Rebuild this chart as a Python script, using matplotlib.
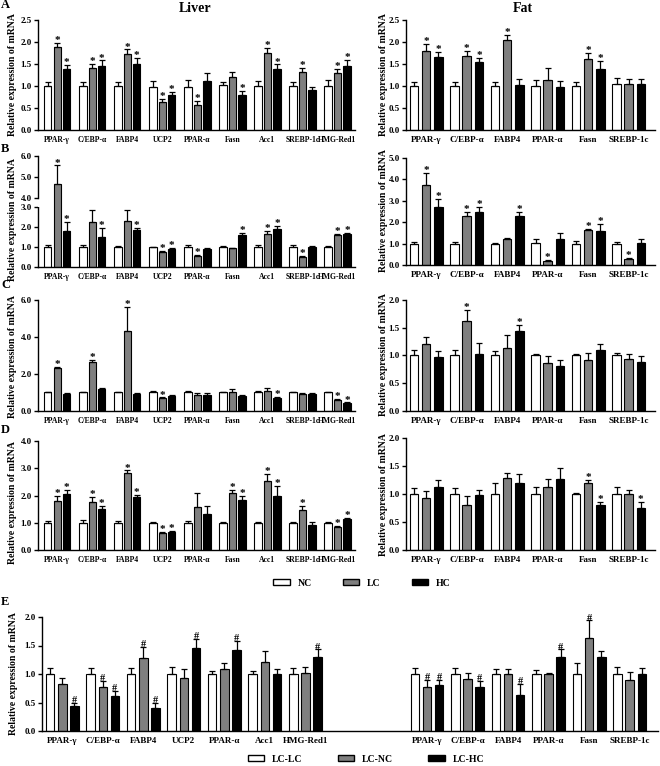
import matplotlib
matplotlib.use('Agg')
import matplotlib.pyplot as plt
from matplotlib.patches import Patch
import numpy as np

plt.rcParams['font.family'] = ['Liberation Serif', 'DejaVu Serif']
plt.rcParams['font.weight'] = 'bold'

# ---------------- data ----------------
liver_genes = ['PPAR-γ', 'C/EBP-α', 'FABP4', 'UCP2', 'PPAR-α', 'Fasn', 'Acc1', 'SREBP-1c', 'HMG-Red1']
fat_genes = ['PPAR-γ', 'C/EBP-α', 'FABP4', 'PPAR-α', 'Fasn', 'SREBP-1c']
e_genes = ['PPAR-γ', 'C/EBP-α', 'FABP4', 'UCP2', 'PPAR-α', 'Acc1', 'HMG-Red1', '', '',
           'PPAR-γ', 'C/EBP-α', 'FABP4', 'PPAR-α', 'Fasn', 'SREBP-1c']
legend1 = ['NC', 'LC', 'HC']
legend2 = ['LC-LC', 'LC-NC', 'LC-HC']

# Panel A
a_liver_means = [[1.00, 1.00, 1.00, 0.98, 0.98, 1.03, 1.01, 1.00, 1.01],
                 [1.88, 1.41, 1.73, 0.64, 0.57, 1.20, 1.76, 1.32, 1.30],
                 [1.38, 1.46, 1.51, 0.79, 1.12, 0.80, 1.39, 0.90, 1.45]]
a_liver_errs = [[0.10, 0.10, 0.08, 0.13, 0.15, 0.06, 0.10, 0.10, 0.12],
                [0.10, 0.10, 0.10, 0.06, 0.09, 0.12, 0.10, 0.08, 0.08],
                [0.10, 0.12, 0.13, 0.08, 0.18, 0.08, 0.10, 0.08, 0.15]]
a_liver_sig = [[0, 0, 0, 0, 0, 0, 0, 0, 0],
               [1, 1, 1, 1, 1, 0, 1, 1, 1],
               [1, 1, 1, 1, 0, 1, 1, 0, 1]]
a_fat_means = [[1.00, 1.00, 1.00, 1.00, 1.00, 1.04],
               [1.80, 1.69, 2.05, 1.14, 1.61, 1.04],
               [1.65, 1.55, 1.03, 0.98, 1.39, 1.05]]
a_fat_errs = [[0.10, 0.10, 0.08, 0.13, 0.08, 0.14],
              [0.16, 0.10, 0.10, 0.27, 0.15, 0.12],
              [0.13, 0.08, 0.13, 0.13, 0.17, 0.10]]
a_fat_sig = [[0, 0, 0, 0, 0, 0],
             [1, 1, 1, 0, 1, 0],
             [1, 1, 0, 0, 1, 0]]

# Panel B
b_liver_means = [[1.00, 1.00, 1.00, 0.98, 0.98, 1.00, 1.00, 1.00, 1.00],
                 [4.65, 2.25, 2.30, 0.77, 0.53, 0.93, 1.65, 0.50, 1.62],
                 [1.80, 1.50, 1.85, 0.88, 0.92, 1.62, 1.88, 1.00, 1.65]]
b_liver_errs = [[0.08, 0.10, 0.05, 0.03, 0.12, 0.05, 0.08, 0.12, 0.04],
                [0.90, 0.60, 0.53, 0.03, 0.06, 0.03, 0.15, 0.06, 0.05],
                [0.45, 0.47, 0.10, 0.07, 0.05, 0.10, 0.18, 0.05, 0.04]]
b_liver_sig = [[0, 0, 0, 0, 0, 0, 0, 0, 0],
               [1, 1, 1, 1, 1, 0, 1, 1, 1],
               [1, 1, 1, 1, 0, 1, 1, 0, 1]]
b_fat_means = [[1.00, 1.00, 1.00, 1.05, 1.00, 1.00],
               [3.72, 2.28, 1.20, 0.20, 1.62, 0.30],
               [2.70, 2.50, 2.30, 1.20, 1.60, 1.05]]
b_fat_errs = [[0.07, 0.08, 0.05, 0.18, 0.12, 0.08],
              [0.60, 0.20, 0.06, 0.05, 0.07, 0.05],
              [0.37, 0.20, 0.20, 0.28, 0.30, 0.17]]
b_fat_sig = [[0, 0, 0, 0, 0, 0],
             [1, 1, 0, 1, 1, 1],
             [1, 1, 1, 0, 1, 0]]

# Panel C
c_liver_means = [[1.00, 1.00, 1.00, 1.00, 1.00, 1.00, 1.00, 1.00, 1.00],
                 [2.30, 2.65, 4.35, 0.68, 0.85, 1.05, 1.08, 0.90, 0.60],
                 [0.93, 1.18, 0.90, 0.82, 0.88, 0.82, 0.70, 0.92, 0.42]]
c_liver_errs = [[0.05, 0.05, 0.05, 0.10, 0.07, 0.05, 0.07, 0.05, 0.05],
                [0.10, 0.10, 1.25, 0.05, 0.10, 0.15, 0.15, 0.05, 0.05],
                [0.05, 0.05, 0.05, 0.05, 0.10, 0.05, 0.05, 0.05, 0.04]]
c_liver_sig = [[0, 0, 0, 0, 0, 0, 0, 0, 0],
               [1, 1, 1, 1, 0, 0, 0, 0, 1],
               [0, 0, 0, 0, 0, 0, 1, 0, 1]]
c_fat_means = [[1.00, 1.00, 1.00, 1.00, 1.00, 1.00],
               [1.20, 1.62, 1.14, 0.87, 0.92, 0.94],
               [0.98, 1.02, 1.45, 0.81, 1.10, 0.89]]
c_fat_errs = [[0.10, 0.10, 0.08, 0.02, 0.02, 0.05],
              [0.13, 0.20, 0.23, 0.12, 0.13, 0.09],
              [0.10, 0.20, 0.10, 0.10, 0.10, 0.10]]
c_fat_sig = [[0, 0, 0, 0, 0, 0],
             [0, 1, 0, 0, 0, 0],
             [0, 0, 1, 0, 0, 0]]

# Panel D
d_liver_means = [[1.00, 1.00, 1.00, 1.00, 1.00, 1.00, 1.00, 1.00, 1.00],
                 [1.80, 1.75, 2.82, 0.63, 1.57, 2.10, 2.55, 1.45, 0.85],
                 [2.05, 1.50, 1.93, 0.67, 1.32, 1.85, 2.00, 0.92, 1.12]]
d_liver_errs = [[0.07, 0.10, 0.08, 0.04, 0.08, 0.03, 0.03, 0.04, 0.04],
                [0.18, 0.20, 0.10, 0.04, 0.52, 0.12, 0.25, 0.17, 0.04],
                [0.17, 0.10, 0.10, 0.04, 0.30, 0.12, 0.35, 0.12, 0.04]]
d_liver_sig = [[0, 0, 0, 0, 0, 0, 0, 0, 0],
               [1, 1, 1, 1, 0, 1, 1, 1, 1],
               [1, 1, 1, 1, 0, 1, 1, 0, 1]]
d_fat_means = [[1.00, 1.00, 1.00, 1.00, 1.00, 1.00],
               [0.92, 0.80, 1.28, 1.13, 1.20, 1.00],
               [1.12, 0.98, 1.20, 1.27, 0.80, 0.75]]
d_fat_errs = [[0.10, 0.10, 0.20, 0.12, 0.02, 0.13],
              [0.13, 0.17, 0.10, 0.14, 0.05, 0.08],
              [0.13, 0.10, 0.15, 0.20, 0.05, 0.10]]
d_fat_sig = [[0, 0, 0, 0, 0, 0],
             [0, 0, 0, 0, 1, 0],
             [0, 0, 0, 0, 1, 1]]

# Panel E (liver genes, two empty slots, fat genes)
e_means = [[1.00, 1.00, 1.00, 1.00, 1.00, 1.00, 1.00, 0, 0, 1.00, 1.00, 1.00, 1.00, 1.00, 1.00],
           [0.83, 0.78, 1.28, 0.93, 1.09, 1.21, 1.01, 0, 0, 0.77, 0.92, 1.00, 1.00, 1.64, 0.90],
           [0.43, 0.62, 0.41, 1.46, 1.42, 1.00, 1.30, 0, 0, 0.81, 0.77, 0.63, 1.30, 1.30, 1.00]]
e_errs = [[0.10, 0.10, 0.10, 0.13, 0.05, 0.05, 0.10, 0, 0, 0.10, 0.10, 0.08, 0.07, 0.20, 0.12],
          [0.10, 0.10, 0.20, 0.15, 0.10, 0.20, 0.12, 0, 0, 0.12, 0.10, 0.08, 0.02, 0.30, 0.13],
          [0.07, 0.09, 0.09, 0.16, 0.16, 0.09, 0.13, 0, 0, 0.08, 0.10, 0.20, 0.13, 0.10, 0.10]]
e_sig = [[0, 0, 0, 0, 0, 0, 0, 0, 0, 0, 0, 0, 0, 0, 0],
         [0, 1, 1, 0, 0, 0, 0, 0, 0, 1, 0, 0, 0, 1, 0],
         [1, 1, 1, 1, 1, 0, 1, 0, 0, 1, 1, 1, 1, 0, 0]]
e_blank = [7, 8]

# ---------------- figure ----------------
W, H = 660, 766
fig = plt.figure(figsize=(W / 100, H / 100), dpi=100)

COLORS = ['white', '#7f7f7f', 'black']
TICK_FS = 6.5
LAB_FS = 6.5
LIV_LAB_FS = 5.5
YLAB_FS = 7


def ax_px(x0, y0, x1, y1):
    return fig.add_axes([x0 / W, 1 - y1 / H, (x1 - x0) / W, (y1 - y0) / H])


def style(ax, ymax, step, ymin=0, labfs=LAB_FS):
    for s in ['top', 'right']:
        ax.spines[s].set_visible(False)
    for s in ['left', 'bottom']:
        ax.spines[s].set_linewidth(1.0)
    ax.set_ylim(ymin, ymax)
    ax.tick_params(axis='y', direction='out', length=3, width=1.0, labelsize=TICK_FS, pad=1.5)
    ax.tick_params(axis='x', length=0, labelsize=labfs, pad=4)
    ax.yaxis.set_major_formatter(matplotlib.ticker.FormatStrFormatter('%.1f'))


def draw(ax, means, errs, sig, off, width, mark='*', skip=(), lo=None, hi=None, mfs=8):
    n = len(means[0])
    x = np.arange(n)
    for k in range(3):
        idx = [i for i in range(n) if i not in skip]
        xs = x[idx] + (k - 1) * off
        m = np.array(means[k])[idx]
        e = np.array(errs[k])[idx]
        ax.bar(xs, m, width, color=COLORS[k], edgecolor='black', linewidth=0.8, zorder=2)
        ax.errorbar(xs, m, yerr=[np.zeros(len(idx)), e], fmt='none', ecolor='black',
                    elinewidth=0.9, capsize=2.2, capthick=0.9, zorder=3)
        for j, i in enumerate(idx):
            if sig[k][i]:
                top = m[j] + e[j]
                if lo is not None and top < lo:
                    continue
                if hi is not None and top > hi:
                    continue
                ax.annotate(mark, (xs[j], top), xytext=(0, -1.5), textcoords='offset points',
                            ha='center', va='bottom', fontsize=mfs, fontweight='bold')
    return x


def ylabel(xpx, ymid):
    fig.text(xpx / W, 1 - ymid / H, 'Relative expression of mRNA', rotation=90,
             ha='center', va='center', fontsize=YLAB_FS, fontweight='bold')


LX0, LX1 = 38, 355
RX0, RX1 = 406, 655
L_OFF, L_W = 0.27, 0.21
R_OFF, R_W = 0.30, 0.21

# Row A
ax = ax_px(LX0, 20, LX1, 130)
x = draw(ax, a_liver_means, a_liver_errs, a_liver_sig, L_OFF, L_W)
style(ax, 2.5, 0.5, labfs=LIV_LAB_FS)
ax.set_yticks(np.arange(0, 2.51, 0.5))
ax.set_xticks(x)
ax.set_xticklabels(liver_genes)
ax.set_xlim(-0.55, len(liver_genes) - 0.5)
ylabel(13, 75)

ax = ax_px(RX0, 20, RX1, 130)
x = draw(ax, a_fat_means, a_fat_errs, a_fat_sig, R_OFF, R_W)
style(ax, 2.5, 0.5)
ax.set_yticks(np.arange(0, 2.51, 0.5))
ax.set_xticks(x)
ax.set_xticklabels(fat_genes)
ax.set_xlim(-0.5, len(fat_genes) - 0.35)
ylabel(383, 75)

# Row B (left broken axis)
axl = ax_px(LX0, 207, LX1, 267)
x = draw(axl, b_liver_means, b_liver_errs, b_liver_sig, L_OFF, L_W, hi=3.0)
style(axl, 3.0, 1.0, labfs=LIV_LAB_FS)
axl.set_yticks([0, 1, 2, 3])
axl.set_xticks(x)
axl.set_xticklabels(liver_genes)
axl.set_xlim(-0.55, len(liver_genes) - 0.5)

axu = ax_px(LX0, 156, LX1, 207)
draw(axu, b_liver_means, b_liver_errs, b_liver_sig, L_OFF, L_W, lo=4.0)
style(axu, 6.0, 1.0, ymin=6.0 - 2.0 * 51 / 42)
axu.set_yticks([4, 5, 6])
axu.spines['left'].set_bounds(4, 6)
axu.spines['bottom'].set_visible(False)
axu.set_xticks([])
axu.set_xlim(-0.55, len(liver_genes) - 0.5)
ylabel(13, 220)

ax = ax_px(RX0, 158, RX1, 265)
x = draw(ax, b_fat_means, b_fat_errs, b_fat_sig, R_OFF, R_W)
style(ax, 5.0, 1.0)
ax.set_yticks([0, 1, 2, 3, 4, 5])
ax.set_xticks(x)
ax.set_xticklabels(fat_genes)
ax.set_xlim(-0.5, len(fat_genes) - 0.35)
ylabel(383, 211)

# Row C
ax = ax_px(LX0, 300, LX1, 411)
x = draw(ax, c_liver_means, c_liver_errs, c_liver_sig, L_OFF, L_W)
style(ax, 6.0, 2.0, labfs=LIV_LAB_FS)
ax.set_yticks([0, 2, 4, 6])
ax.set_xticks(x)
ax.set_xticklabels(liver_genes)
ax.set_xlim(-0.55, len(liver_genes) - 0.5)
ylabel(13, 357)

ax = ax_px(RX0, 300, RX1, 411)
x = draw(ax, c_fat_means, c_fat_errs, c_fat_sig, R_OFF, R_W)
style(ax, 2.0, 0.5)
ax.set_yticks(np.arange(0, 2.01, 0.5))
ax.set_xticks(x)
ax.set_xticklabels(fat_genes)
ax.set_xlim(-0.5, len(fat_genes) - 0.35)
ylabel(383, 355)

# Row D
ax = ax_px(LX0, 441, LX1, 550)
x = draw(ax, d_liver_means, d_liver_errs, d_liver_sig, L_OFF, L_W)
style(ax, 4.0, 1.0, labfs=LIV_LAB_FS)
ax.set_yticks([0, 1, 2, 3, 4])
ax.set_xticks(x)
ax.set_xticklabels(liver_genes)
ax.set_xlim(-0.55, len(liver_genes) - 0.5)
ylabel(13, 503)

ax = ax_px(RX0, 438, RX1, 550)
x = draw(ax, d_fat_means, d_fat_errs, d_fat_sig, R_OFF, R_W)
style(ax, 2.0, 0.5)
ax.set_yticks(np.arange(0, 2.01, 0.5))
ax.set_xticks(x)
ax.set_xticklabels(fat_genes)
ax.set_xlim(-0.5, len(fat_genes) - 0.35)
ylabel(383, 495)

# Row E
ax = ax_px(42, 617, 658, 731)
x = draw(ax, e_means, e_errs, e_sig, 0.30, 0.21, mark='#', skip=e_blank, mfs=7.5)
style(ax, 2.0, 0.5)
ax.set_yticks(np.arange(0, 2.01, 0.5))
ax.set_xticks(x)
ax.set_xticklabels(e_genes)
ax.set_xticks(e_blank, minor=True)
ax.tick_params(axis='x', which='minor', length=3, width=1.0, direction='out')
ax.set_xlim(-0.5, len(e_genes) - 0.3)
ylabel(14, 674)

# Titles and panel letters
fig.text(195 / W, 1 - 8 / H, 'Liver', ha='center', va='center', fontsize=10, fontweight='bold')
fig.text(523 / W, 1 - 8 / H, 'Fat', ha='center', va='center', fontsize=10, fontweight='bold')
for lab, ypx in [('A', 5), ('B', 149), ('C', 285), ('D', 430), ('E', 602)]:
    fig.text(1 / W, 1 - ypx / H, lab, ha='left', va='center', fontsize=9, fontweight='bold')

# Legends
h1 = [Patch(facecolor=c, edgecolor='black', linewidth=1.0) for c in COLORS]
fig.legend(h1, legend1, loc='center', bbox_to_anchor=(362 / W, 1 - 583 / H), ncol=3,
           frameon=False, fontsize=7, handlelength=1.7, handleheight=0.6,
           columnspacing=3.2, handletextpad=0.8)
fig.legend(h1, legend2, loc='center', bbox_to_anchor=(366 / W, 1 - 759 / H), ncol=3,
           frameon=False, fontsize=7, handlelength=1.7, handleheight=0.6,
           columnspacing=3.6, handletextpad=0.8)

fig.savefig('out.png', dpi=100)
